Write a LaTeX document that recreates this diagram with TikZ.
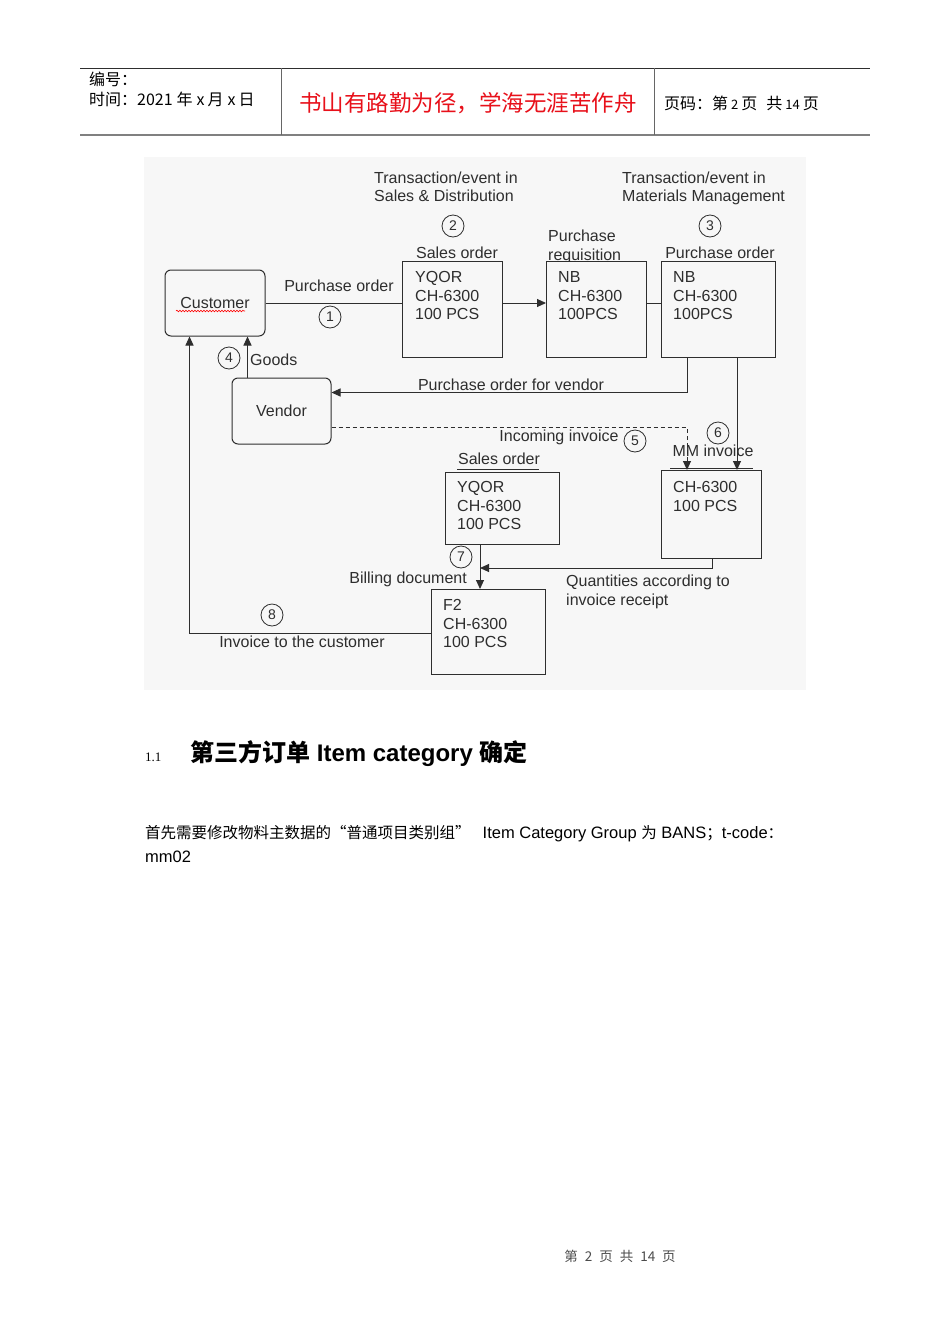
\documentclass[tikz,border=0pt]{standalone}
\usepackage{fontspec}
\setmainfont{Liberation Sans}
\newfontfamily\cjk{Noto Sans CJK SC}
\newfontfamily\numserif{Liberation Serif}
\usepackage{xcolor}
\usetikzlibrary{arrows.meta,positioning,calc,decorations.pathmorphing}
\definecolor{diagbg}{HTML}{F7F7F7}
\definecolor{ink}{HTML}{2E2E2E}
\definecolor{mottored}{HTML}{E8101A}

\begin{document}
\begin{tikzpicture}[x=1pt,y=-1pt,
  lbl/.style={font=\fontsize{16}{18.5}\selectfont,text=ink,inner sep=0pt},
  box/.style={draw=ink,line width=1pt,fill=diagbg,anchor=north west,inner sep=0pt},
  rbox/.style={box,rounded corners=6pt,anchor=center,font=\fontsize{16}{18.5}\selectfont,text=ink},
  num/.style={circle,draw=ink,line width=0.8pt,minimum size=22pt,inner sep=0pt,font=\fontsize{14}{14}\selectfont,text=ink},
  line/.style={draw=ink,line width=1pt},
  arr/.style={line,-{Triangle[length=9pt,width=8pt]}}]
\useasboundingbox (0,0) rectangle (950,1344);
\fill[white] (0,0) rectangle (950,1344);

% page header
\draw[ink,line width=0.8pt] (80,68) -- (870,68);
\draw[black!50,line width=2pt] (80,135) -- (870,135);
\draw[black!60,line width=0.8pt] (281,68) -- (281,135) (654,68) -- (654,135);
\node[anchor=base west,inner sep=0pt,font=\cjk\fontsize{16}{16}\selectfont] (hdrno) at (89,85) {编号：};
\node[anchor=base west,inner sep=0pt,font=\cjk\fontsize{16}{16}\selectfont] (hdrdate) at (89,105) {时间：2021\hspace{4pt}年\hspace{4pt}x\hspace{3pt}月\hspace{4pt}x\hspace{3pt}日};
\node[anchor=base,inner sep=0pt,font=\cjk\fontsize{22.5}{22.5}\selectfont,text=mottored] (motto) at (468,111) {书山有路勤为径，学海无涯苦作舟};
\node[anchor=base west,inner sep=0pt,font=\cjk\fontsize{16}{16}\selectfont] (hdrpage) at (664,109) {页码：第\hspace{3pt}{\fontsize{13}{13}\selectfont 2}\hspace{3pt}页\hspace{9pt}共\hspace{3pt}{\fontsize{13}{13}\selectfont 14}\hspace{3pt}页};

% diagram background
\fill[diagbg] (144,157) rectangle (806,690);

% headings over the boxes
\node[lbl,align=left,anchor=north west] (sdhead) at (374,171.5) {Transaction/event in\\Sales \& Distribution};
\node[lbl,align=left,anchor=north west] (mmhead) at (622,171.5) {Transaction/event in\\Materials Management};
\node[num] (n2) at (453,226) {2};
\node[num] (n3) at (710,226) {3};
\node[lbl,anchor=base] (solbl) at (457,258) {Sales order};
\node[lbl,align=left,anchor=north west,font=\fontsize{16}{19}\selectfont] (preqlbl) at (548,229.4) {Purchase\\requisition};
\node[lbl,anchor=base] (polbl) at (720,258) {Purchase order};
\node[lbl,anchor=base] (so2lbl) at (499,464) {Sales order};

% boxes
\node[rbox,minimum width=100pt,minimum height=66pt] (customer) at (215,303) {Customer};
\node[rbox,minimum width=99pt,minimum height=66pt] (vendor) at (281.5,411) {Vendor};
\node[box,minimum width=100pt,minimum height=96pt] (so) at (402,261) {};
\node[box,minimum width=100pt,minimum height=96pt] (preq) at (546,261) {};
\node[box,minimum width=114pt,minimum height=96pt] (po) at (661,261) {};
\node[box,minimum width=114pt,minimum height=72pt] (so2) at (445,472) {};
\node[box,minimum width=100pt,minimum height=88pt] (mminv) at (661,470) {};
\node[box,minimum width=114pt,minimum height=85pt] (billing) at (431,589) {};
\draw[ink,line width=1pt] ($(so2.north west)+(12,-3)$) -- ($(so2.north east)+(-21,-3)$);
\draw[ink,line width=1pt] ($(mminv.north west)+(9,-2)$) -- ($(mminv.north east)+(-9,-2)$);
\draw[red,line width=0.6pt,decorate,decoration={snake,amplitude=0.8pt,segment length=3pt}]
  ($(customer.center)+(-39,8)$) -- ($(customer.center)+(30,8)$);

% box texts
\node[lbl,align=left,anchor=north west] (sotxt) at (415,271.4) {YQOR\\CH-6300\\100 PCS};
\node[lbl,align=left,anchor=north west] (preqtxt) at (558,271.4) {NB\\CH-6300\\100PCS};
\node[lbl,align=left,anchor=north west] (potxt) at (673,271.4) {NB\\CH-6300\\100PCS};
\node[lbl,align=left,anchor=north west] (so2txt) at (457,481.4) {YQOR\\CH-6300\\100 PCS};
\node[lbl,align=left,anchor=north west] (mminvtxt) at (673,481.4) {CH-6300\\100 PCS};
\node[lbl,align=left,anchor=north west] (billtxt) at (443,599.4) {F2\\CH-6300\\100 PCS};

% connectors
\coordinate (poleft) at ($(po.south west)+(26,0)$);
\coordinate (poright) at ($(po.south west)+(76,0)$);
\coordinate (goodsout) at ($(vendor.north west)+(16,0)$);
\coordinate (invin) at ($(mminv.north west)+(26,0)$);
\coordinate (soout) at ($(so2.south west)+(35,0)$);
\coordinate (mmout) at ($(mminv.south west)+(51,0)$);
\coordinate (billout) at ($(billing.north west)+(0,44)$);
\coordinate (custin) at ($(customer.south west)+(25,0)$);
\draw[line] (customer.east) -- (customer.east -| so.west);
\draw[arr] (so.east |- customer.east) -- (preq.west |- customer.east);
\draw[line] (preq.east |- customer.east) -- (po.west |- customer.east);
\draw[arr] (poleft) |- ($(vendor.north east)+(0,15)$);
\draw[arr] (goodsout) -- (goodsout |- customer.south);
\draw[arr,dash pattern=on 4pt off 3pt] ($(vendor.south east)+(0,-17)$) -| (invin);
\draw[arr] (poright) -- (poright |- mminv.north);
\draw[arr] (soout) -- (soout |- billing.north);
\draw[arr] (mmout) |- ($(soout)+(0,23)$);
\draw[arr] (billout) -| (custin);

% connector labels
\node[lbl,anchor=base] (polbl1) at (339,291) {Purchase order};
\node[num] (n1) at (330,317) {1};
\node[num] (n4) at (229,358) {4};
\node[lbl,anchor=base west] (goodslbl) at (250,365) {Goods};
\node[lbl,anchor=base] (pvlbl) at (511,390) {Purchase order for vendor};
\node[lbl,anchor=base] (inclbl) at (559,441) {Incoming invoice};
\node[num] (n5) at (635,441) {5};
\node[num] (n6) at (718,433) {6};
\node[lbl,anchor=base] (mmlbl) at (713,456) {MM invoice};
\node[num] (n7) at (461,557) {7};
\node[lbl,anchor=base east] (billlbl) at (467,583) {Billing document};
\node[lbl,align=left,anchor=north west,font=\fontsize{16}{19}\selectfont] (qtylbl) at (566,574.4) {Quantities according to\\invoice receipt};
\node[num] (n8) at (272,615) {8};
\node[lbl,anchor=base] (custlbl) at (302,647) {Invoice to the customer};

% text below the diagram
\node[anchor=base west,inner sep=0pt,font=\numserif\fontsize{13}{13}\selectfont] (secno) at (145,761) {1.1};
\node[anchor=base west,inner sep=0pt,font=\fontsize{24}{24}\selectfont\bfseries] (sectitle) at (190,761) {{\cjk 第三方订单} Item category {\cjk 确定}};
\node[anchor=base west,inner sep=0pt,font=\fontsize{16.5}{16.5}\selectfont] (para1) at (145,838) {{\cjk\fontsize{15.5}{15.5}\selectfont 首先需要修改物料主数据的“普通项目类别组”}\hspace{12pt}Item Category Group {\cjk\fontsize{15.5}{15.5}\selectfont 为} BANS{\cjk\fontsize{15.5}{15.5}\selectfont ；}t-code{\cjk\fontsize{15.5}{15.5}\selectfont ：}};
\node[anchor=base west,inner sep=0pt,font=\fontsize{16.5}{16.5}\selectfont] (para2) at (145,862) {mm02};

% footer
\node[anchor=base,inner sep=0pt,font=\cjk\fontsize{13.5}{13.5}\selectfont,text=black!70] (footer) at (620,1261) {第\hspace{7pt}2\hspace{7pt}页\hspace{7pt}共\hspace{7pt}14\hspace{7pt}页};
\end{tikzpicture}
\end{document}
